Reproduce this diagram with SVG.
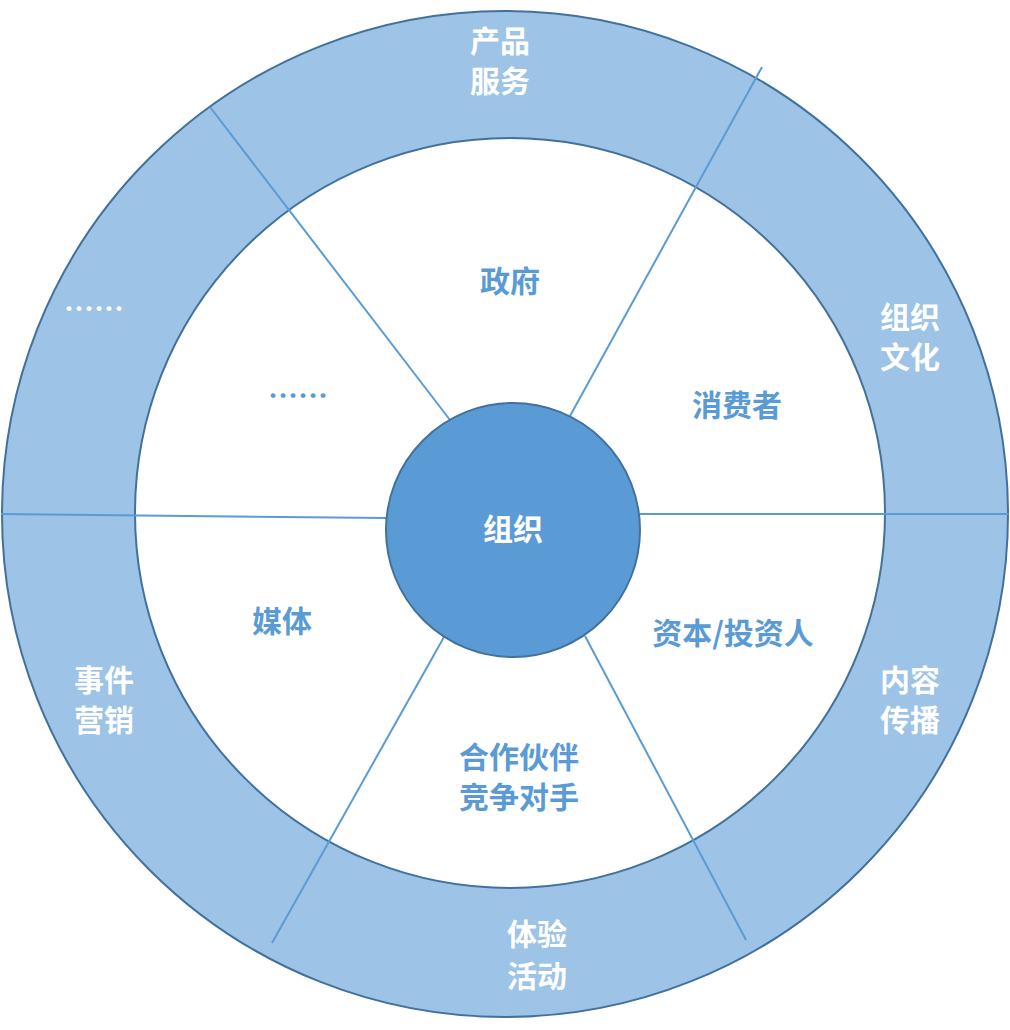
<svg xmlns="http://www.w3.org/2000/svg" width="1010" height="1030" viewBox="0 0 1010 1030">
<style>
text{font-family:"Noto Sans CJK SC","Noto Sans",sans-serif;font-weight:bold;font-size:30px;text-anchor:middle}
.w{fill:#fff}.b{fill:#5B9BD5}
.l{stroke:#5B9BD5;stroke-width:2;fill:none}
</style>
<g id="ring"><circle cx="505" cy="514" r="503" fill="#9DC3E6" stroke="#41719C" stroke-width="2"/></g>
<g id="inner"><circle cx="510" cy="513" r="375" fill="#fff" stroke="#41719C" stroke-width="2"/></g>
<g id="connectors">
<line class="l" x1="210" y1="107" x2="450" y2="420"/>
<line class="l" x1="762" y1="67" x2="570" y2="416"/>
<line class="l" x1="1009" y1="514" x2="640" y2="514"/>
<line class="l" x1="746" y1="940" x2="585" y2="636"/>
<line class="l" x1="272" y1="943" x2="444" y2="637"/>
<line class="l" x1="1" y1="514" x2="386" y2="518"/>
</g>
<g id="center"><circle cx="513" cy="530" r="127" fill="#5B9BD5" stroke="#41719C" stroke-width="2"/><text class="w" x="513" y="540">组织</text></g>
<g id="ring-labels">
<text class="w" x="500" y="52">产品</text><text class="w" x="500" y="92">服务</text>
<text class="w" x="910" y="328">组织</text><text class="w" x="910" y="368">文化</text>
<text class="w" x="910" y="691">内容</text><text class="w" x="910" y="731">传播</text>
<text class="w" x="537" y="945">体验</text><text class="w" x="537" y="987">活动</text>
<text class="w" x="104" y="691">事件</text><text class="w" x="104" y="731">营销</text>
<text class="w" x="94" y="320">……</text>
</g>
<g id="inner-labels">
<text class="b" x="510" y="292">政府</text>
<text class="b" x="737" y="416">消费者</text>
<text class="b" x="733" y="644">资本/投资人</text>
<text class="b" x="519" y="768">合作伙伴</text><text class="b" x="519" y="808">竞争对手</text>
<text class="b" x="282" y="632">媒体</text>
<text class="b" x="298" y="407">……</text>
</g>
</svg>
